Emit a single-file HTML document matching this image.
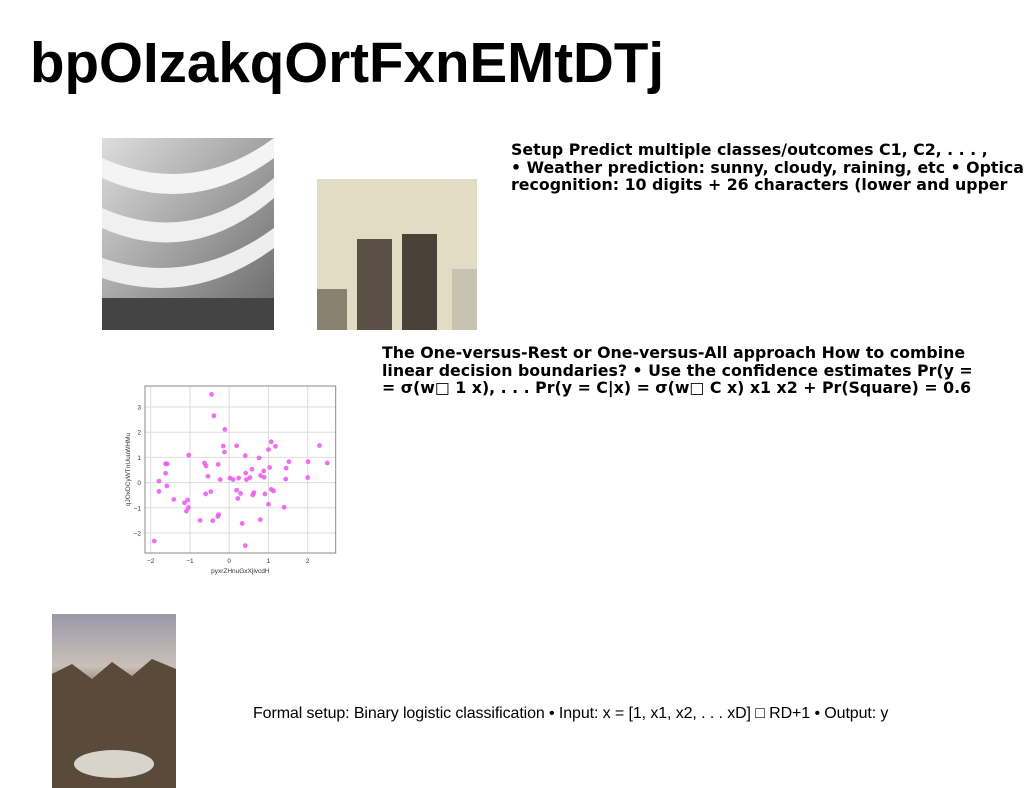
<!DOCTYPE html>
<html><head><meta charset="utf-8"><style>
body{margin:0;width:1024px;height:788px;background:#fff;position:relative;overflow:hidden;font-family:"Liberation Sans",sans-serif}
.t{position:absolute;white-space:nowrap}
.b{font-family:"DejaVu Sans",sans-serif;font-weight:bold;font-size:15.8px;line-height:17.5px;color:#000}
</style></head><body>
<div class="t" style="left:30px;top:30px;font-size:56.5px;font-weight:bold;">bpOIzakqOrtFxnEMtDTj</div>

<svg style="position:absolute;left:102px;top:138px" width="172" height="192">
<defs><linearGradient id="g1" x1="0" y1="0" x2="1" y2="1"><stop offset="0" stop-color="#ddd"/><stop offset="1" stop-color="#666"/></linearGradient></defs>
<rect width="172" height="192" fill="url(#g1)"/>
<path d="M0 20 Q90 60 172 0 L172 20 Q90 80 0 40Z" fill="#f4f4f4"/>
<path d="M0 70 Q90 110 172 40 L172 60 Q90 130 0 90Z" fill="#f0f0f0"/>
<path d="M0 120 Q90 150 172 90 L172 110 Q90 170 0 140Z" fill="#eee"/>
<rect y="160" width="172" height="32" fill="#444"/>
</svg>

<svg style="position:absolute;left:317px;top:179px" width="160" height="151">
<rect width="160" height="151" fill="#e2dcc4"/>
<rect x="40" y="60" width="35" height="91" fill="#5a5046"/>
<rect x="85" y="55" width="35" height="96" fill="#4a4238"/>
<rect x="0" y="110" width="30" height="41" fill="#8a8270"/>
<rect x="135" y="90" width="25" height="61" fill="#c8c2b0"/>
</svg>

<div class="t b" style="left:511px;top:141px">Setup Predict multiple classes/outcomes C1, C2, . . . ,<br>• Weather prediction: sunny, cloudy, raining, etc • Optical<br>recognition: 10 digits + 26 characters (lower and upper</div>

<div class="t b" style="left:382px;top:344px">The One-versus-Rest or One-versus-All approach How to combine<br>linear decision boundaries? • Use the confidence estimates Pr(y =<br>= σ(w□ 1 x), . . . Pr(y = C|x) = σ(w□ C x) x1 x2 + Pr(Square) = 0.6</div>

<svg id="chart" style="position:absolute;left:110px;top:380px" width="240" height="200"></svg>

<svg style="position:absolute;left:52px;top:614px" width="124" height="174">
<defs><linearGradient id="g3" x1="0" y1="0" x2="0" y2="1"><stop offset="0" stop-color="#9a98a8"/><stop offset="0.3" stop-color="#c9c0b8"/><stop offset="0.5" stop-color="#6a5a48"/><stop offset="1" stop-color="#3a3028"/></linearGradient></defs>
<rect width="124" height="174" fill="url(#g3)"/>
<path d="M0 60 L20 50 L40 65 L60 48 L80 62 L100 45 L124 55 L124 174 L0 174Z" fill="#5a4a3a"/>
<ellipse cx="62" cy="150" rx="40" ry="14" fill="#d8d4cc"/>
</svg>

<div class="t" style="left:253px;top:705px;font-size:16px;letter-spacing:-0.1px">Formal setup: Binary logistic classification • Input: x = [1, x1, x2, . . . xD] □ RD+1 • Output: y</div>

<script>
const xs=[-0.45,-0.39,-0.11,-0.15,-0.12,0.19,0.41,0.76,1.07,1.0,1.18,2.3,2.5,2.01,1.52,1.45,1.44,2.0,1.03,0.88,0.89,0.8,0.58,0.53,0.42,0.44,0.24,0.1,0.02,-0.23,-0.28,-0.54,-0.63,-0.59,-1.03,-1.62,-1.58,-1.62,-1.59,-1.79,-1.79,-1.41,-1.06,-1.14,-1.04,-1.09,-1.91,-0.47,-0.6,-0.74,-0.42,-0.27,-0.29,0.19,0.22,0.29,0.33,0.41,0.63,0.6,0.91,1.07,1.13,1.0,0.79,1.4];
const ys=[3.5,2.65,2.11,1.45,1.21,1.46,1.07,0.98,1.62,1.31,1.44,1.47,0.78,0.83,0.83,0.57,0.14,0.2,0.6,0.46,0.21,0.28,0.53,0.2,0.38,0.12,0.18,0.12,0.18,0.12,0.72,0.25,0.78,0.66,1.09,0.75,0.74,0.37,-0.13,0.06,-0.35,-0.67,-0.69,-0.8,-0.99,-1.13,-2.32,-0.36,-0.45,-1.5,-1.51,-1.27,-1.34,-0.3,-0.63,-0.43,-1.62,-2.5,-0.4,-0.49,-0.45,-0.27,-0.33,-0.86,-1.47,-0.98];
const xTicks=[-2,-1,0,1,2];
const yTicks=[-2,-1,0,1,2,3];
const NS="http://www.w3.org/2000/svg";
const svg=document.getElementById('chart');
const L=35,R=225.7,T=6,B=173;
const sx=v=>119.2+v*39.25;
const sy=v=>102.6-v*25.2;
function mk(tag,attrs){const e=document.createElementNS(NS,tag);for(const k in attrs)e.setAttribute(k,attrs[k]);svg.appendChild(e);return e;}
xTicks.forEach(t=>{
 const g=mk('line',{x1:sx(t),x2:sx(t),y1:T,y2:B,stroke:'#ddd','stroke-width':1});
 
 
 const tx=mk('text',{x:sx(t),y:B+10,'font-size':6.5,'text-anchor':'middle',fill:'#333'});
 tx.textContent=(t<0?'−':'')+Math.abs(t);
 
 
});
yTicks.forEach(t=>{
 const g=mk('line',{x1:L,x2:R,y1:sy(t),y2:sy(t),stroke:'#ddd','stroke-width':1});
 
 
 const tx=mk('text',{x:L-4,y:sy(t)+2.5,'font-size':6.5,'text-anchor':'end',fill:'#333'});
 tx.textContent=(t<0?'−':'')+Math.abs(t);
 
 
});
const fr=mk('rect',{x:L,y:T,width:R-L,height:B-T,fill:'none',stroke:'#888','stroke-width':1});


xs.forEach((x,i)=>{
 const c=mk('circle',{cx:sx(x),cy:sy(ys[i]),r:2.4,fill:'#ee55ee','fill-opacity':0.85});
 
 
});
const xl=mk('text',{x:(L+R)/2,y:193,'font-size':6.5,'text-anchor':'middle',fill:'#333'});
xl.textContent='pyxrZHnuGxXjlvcdH';


const yl=mk('text',{x:0,y:0,'font-size':6.5,'text-anchor':'middle',fill:'#333',transform:'translate(20,'+((T+B)/2)+') rotate(-90)'});
yl.textContent='qJOxDCyWTnUuuWHMu';


</script>
</body></html>
